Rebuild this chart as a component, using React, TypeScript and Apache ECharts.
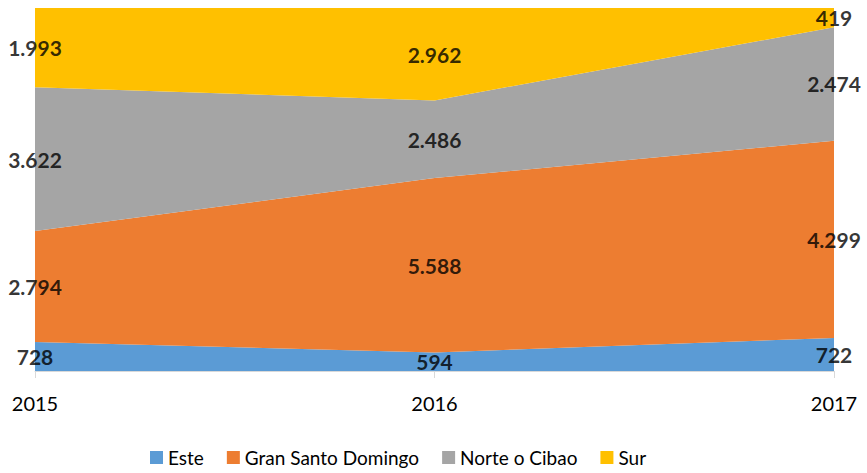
import React, { useEffect, useRef } from "react";
import * as echarts from "echarts";

const years = ["2015", "2016", "2017"];
const seriesNames = ["Este", "Gran Santo Domingo", "Norte o Cibao", "Sur"];
const este = [728, 594, 722];
const granSantoDomingo = [2794, 5588, 4299];
const norteCibao = [3622, 2486, 2474];
const sur = [1993, 2962, 419];
const colors = ["#5B9BD5", "#ED7D31", "#A5A5A5", "#FFC000"];

const fmt = (v: number) => {
  const s = String(v);
  return s.length > 3 ? s.slice(0, s.length - 3) + "." + s.slice(-3) : s;
};

export default function App() {
  const ref = useRef<HTMLDivElement>(null);
  useEffect(() => {
    if (!ref.current) return;
    const chart = echarts.init(ref.current, null, { renderer: "svg" });
    const raw = [este, granSantoDomingo, norteCibao, sur];
    const totals = years.map((_, i) => raw.reduce((a, s) => a + s[i], 0));
    const pct = raw.map((s) => s.map((v, i) => (v / totals[i]) * 100));
    const areaSeries = pct.map((d, k) => ({
      name: seriesNames[k],
      type: "line",
      stack: "total",
      data: d,
      symbol: "none",
      lineStyle: { width: 0 },
      areaStyle: { color: colors[k], opacity: 1 },
      itemStyle: { color: colors[k] },
      z: 2,
    }));
    const labelSeries = pct.map((d, k) => ({
      name: "lbl" + k,
      type: "scatter",
      symbolSize: 0,
      silent: true,
      z: 5,
      data: d.map((v, i) => {
        let below = 0;
        for (let j = 0; j < k; j++) below += pct[j][i];
        return { value: [i, below + v / 2], raw: raw[k][i] };
      }),
      label: {
        show: true,
        position: "inside",
        formatter: (p: any) => fmt(p.data.raw),
        fontFamily: "Lato",
        fontWeight: "bold",
        fontSize: 21,
        color: "#000",
      },
    }));
    chart.setOption({
      animation: false,
      grid: { left: 35, right: 33, top: 8, bottom: 102 },
      legend: {
        data: seriesNames,
        left: 150,
        top: 448,
        padding: 0,
        icon: "rect",
        itemWidth: 13,
        itemHeight: 13,
        itemGap: 23,
        textStyle: { fontFamily: "Lato", fontSize: 19, color: "#000" },
      },
      xAxis: {
        type: "category",
        data: years,
        boundaryGap: false,
        axisLine: { show: true, lineStyle: { color: "#D9D9D9" } },
        axisTick: { show: true, length: 7, lineStyle: { color: "#D9D9D9" } },
        axisLabel: { fontFamily: "Lato", fontSize: 20, color: "#000", margin: 22 },
        z: 10,
      },
      yAxis: { type: "value", min: 0, max: 100, show: false, splitLine: { show: false } },
      series: [...areaSeries, ...labelSeries],
    });
    return () => chart.dispose();
  }, []);
  return (
    <div
      ref={ref}
      style={{ position: "fixed", left: 0, top: 0, width: 867, height: 473, background: "#fff" }}
    />
  );
}
